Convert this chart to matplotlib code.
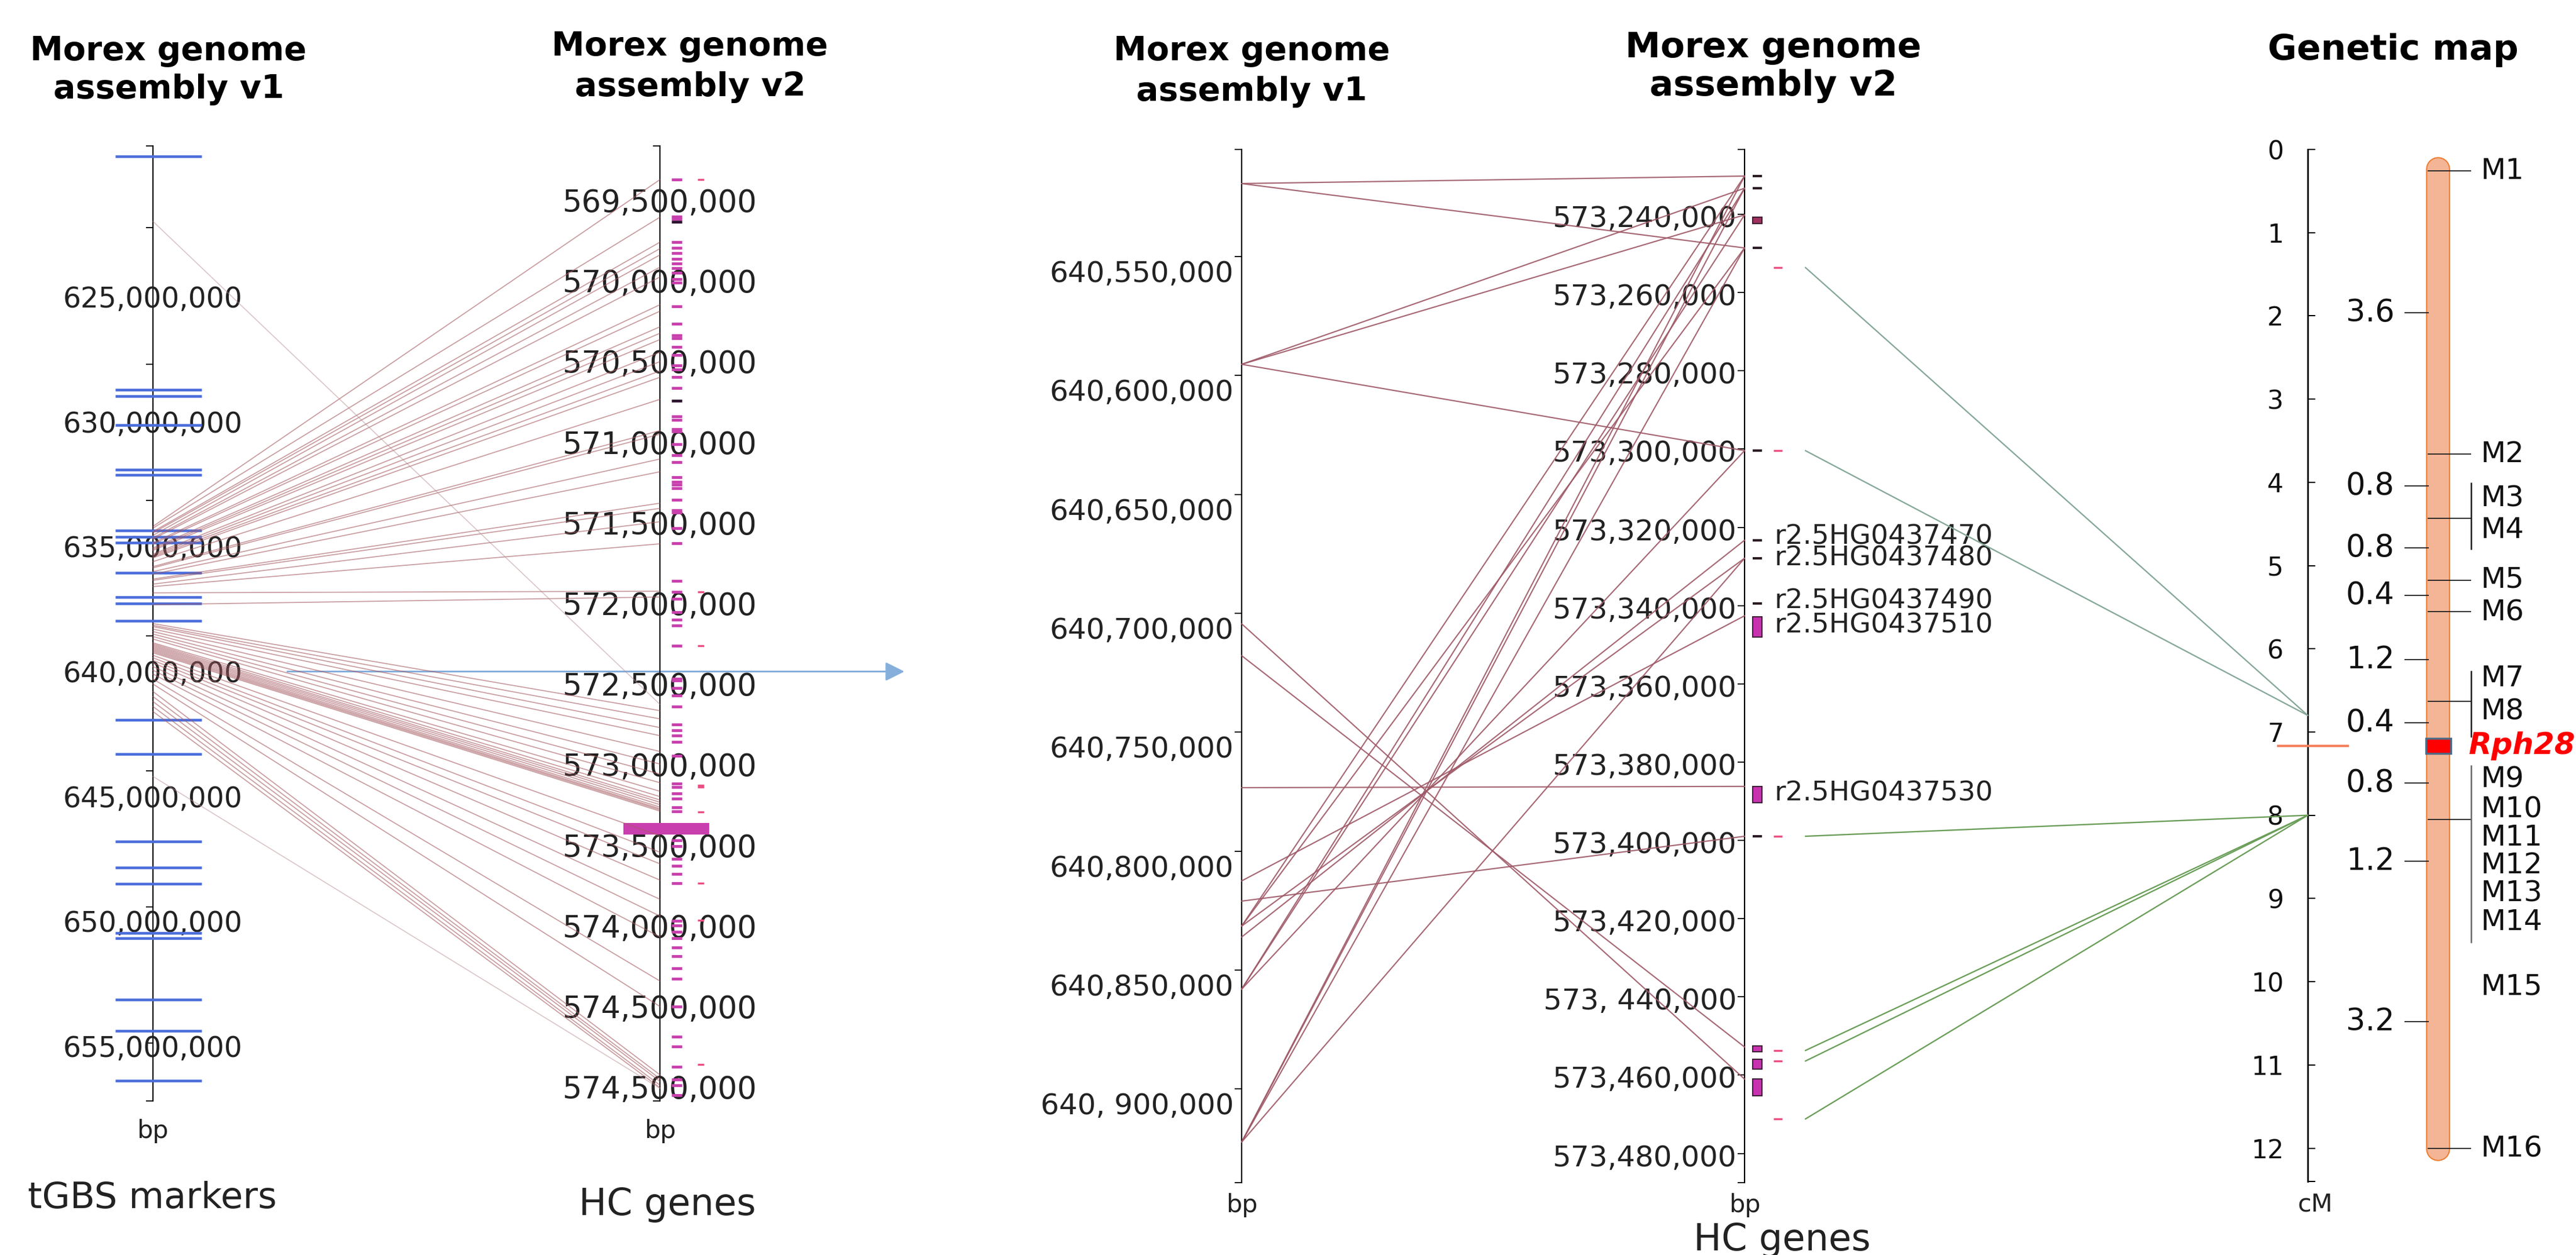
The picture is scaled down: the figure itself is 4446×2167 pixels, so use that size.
import matplotlib
matplotlib.use("Agg")
import matplotlib.pyplot as plt
from matplotlib.patches import ConnectionPatch, Rectangle
from matplotlib.transforms import offset_copy
import matplotlib.patheffects as pe

# ---------------- left block: whole region, assembly v1 vs v2 (Mb) ----------------
v1_range_mb = (618.86, 657.09)
v1_tick_mb = [625, 630, 635, 640, 645, 650, 655]
v1_tick_labels = ['625,000,000', '630,000,000', '635,000,000', '640,000,000',
                  '645,000,000', '650,000,000', '655,000,000']
v1_minor_mb = [622.13, 627.60, 633.05, 638.47, 643.87, 649.32, 654.77]
tgbs_markers_mb = [619.27, 628.62, 628.87, 630.03, 631.82, 632.03, 634.25, 634.51,
                   634.74, 635.94, 636.92, 637.17, 637.87, 641.83, 643.20, 646.70,
                   647.75, 648.39, 650.37, 650.57, 653.03, 654.28, 656.28]

v2_range_mb = (569.144, 575.068)
v2_tick_mb = [569.5, 570.0, 570.5, 571.0, 571.5, 572.0, 572.5, 573.0, 573.5, 574.0, 574.5, 575.0]
v2_tick_labels = ['569,500,000', '570,000,000', '570,500,000', '571,000,000',
                  '571,500,000', '572,000,000', '572,500,000', '573,000,000',
                  '573,500,000', '574,000,000', '574,500,000', '574,500,000']
hc_genes_mb = [569.353, 569.583, 569.597, 569.741, 569.777, 569.809, 569.845, 569.874,
               569.903, 569.932, 569.971, 569.993, 570.140, 570.248, 570.317, 570.338,
               570.392, 570.442, 570.507, 570.532, 570.576, 570.647, 570.820, 570.842,
               570.899, 570.914, 570.993, 571.061, 571.104, 571.198, 571.227, 571.245,
               571.266, 571.338, 571.403, 571.417, 571.514, 571.608, 571.842, 571.910,
               571.953, 572.036, 572.083, 572.119, 572.245, 572.450, 572.460, 572.507,
               572.554, 572.622, 572.734, 572.770, 572.802, 572.842, 572.928, 573.101,
               573.122, 573.162, 573.191, 573.245, 573.270, 573.453, 573.489, 573.565,
               573.608, 573.658, 573.716, 573.950, 573.978, 574.018, 574.058, 574.115,
               574.169, 574.245, 574.309, 574.482, 574.669, 574.730, 574.856, 574.935,
               574.971, 575.032]
hc_genes_dark_mb = [569.615, 570.723]
hc_extra_mb = [569.353, 571.910, 572.245, 573.110, 573.122, 573.277, 573.716, 573.946, 574.842]
hc_cluster_mb = (573.345, 573.417)

link_v1_mb = [634.09, 634.16, 634.30, 634.35, 634.45, 634.55, 634.60, 634.75, 634.80,
              634.95, 635.00, 635.05, 635.20, 635.25, 635.30, 635.35, 635.50, 635.70,
              635.75, 635.90, 636.00, 636.20, 636.25, 636.40, 636.50, 636.75, 637.22,
              637.98, 638.05, 638.10, 638.20, 638.30, 638.40, 638.50, 638.60, 638.75,
              638.80, 638.85, 638.90, 638.95, 639.00, 639.05, 639.10, 639.15, 639.25,
              639.35, 639.45, 639.55, 639.70, 639.85, 640.00, 640.20, 640.40, 640.70,
              640.90, 641.10, 641.30, 641.50]
link_v2_mb = [569.353, 569.586, 569.741, 569.781, 569.820, 569.896, 569.957, 570.129, 570.169,
              570.266, 570.306, 570.345, 570.424, 570.482, 570.540, 570.579, 570.716, 570.910,
              570.932, 571.086, 571.165, 571.360, 571.392, 571.475, 571.612, 571.906, 571.942,
              572.647, 572.698, 572.752, 572.802, 572.900, 572.978, 573.040, 573.094, 573.147,
              573.180, 573.201, 573.215, 573.230, 573.245, 573.255, 573.262, 573.270, 573.424,
              573.525, 573.597, 573.698, 573.817, 573.921, 574.050, 574.324, 574.482, 574.906,
              574.930, 574.946, 574.970, 574.986]
faint_v1_mb = [621.88, 644.10]
faint_v2_mb = [572.608, 574.990]

# ---------------- middle block: zoom on the Rph28 interval (bp) ----------------
zv1_range = (640504950, 640939350)
zv1_ticks = [640550000, 640600000, 640650000, 640700000, 640750000, 640800000, 640850000, 640900000]
zv1_labels = ['640,550,000', '640,600,000', '640,650,000', '640,700,000',
              '640,750,000', '640,800,000', '640,850,000', '640, 900,000']

zv2_range = (573223420, 573487460)
zv2_ticks = [573240000, 573260000, 573280000, 573300000, 573320000, 573340000, 573360000,
             573380000, 573400000, 573420000, 573440000, 573460000, 573480000]
zv2_labels = ['573,240,000', '573,260,000', '573,280,000', '573,300,000', '573,320,000',
              '573,340,000', '573,360,000', '573,380,000', '573,400,000', '573,420,000',
              '573, 440,000', '573,460,000', '573,480,000']

zoom_link_v1 = [640519300, 640519300, 640595300, 640595300, 640595300, 640704400, 640717800,
                640773300, 640812500, 640821000, 640831500, 640831500, 640831500, 640836100,
                640858000, 640858000, 640858000, 640922300, 640922300, 640922300, 640922300]
zoom_link_v2 = [573230230, 573248600, 573233340, 573240150, 573300400, 573461000, 573452800,
                573386200, 573342600, 573398950, 573230230, 573248600, 573327900, 573323300,
                573233340, 573240150, 573300400, 573230230, 573233340, 573248600, 573327900]

zoom_gene_dash = [573230230, 573233340, 573248600, 573300400, 573323300, 573327900,
                  573339500, 573398950]
zoom_gene_start = [573240740, 573342900, 573386200, 573452500, 573455900, 573461000]
zoom_gene_end = [573242370, 573348000, 573390400, 573454000, 573458400, 573465300]
gene_names = ['r2.5HG0437470', 'r2.5HG0437480', 'r2.5HG0437490', 'r2.5HG0437510', 'r2.5HG0437530']
gene_name_pos = [573322400, 573327900, 573338900, 573345100, 573388000]

map_marker_bp = [573253600, 573300400, 573398950, 573453700, 573456400, 573471200]
map_marker_cm = [6.8, 6.8, 8.0, 8.0, 8.0, 8.0]

# ---------------- right block: genetic map (cM) ----------------
cm_range = (0, 12.40)
cm_ticks = list(range(13))
chrom_cm = (0.10, 12.15)
marker_line_cm = [0.26, 3.66, 4.43, 5.18, 5.55, 6.63, 8.05, 12.0]
marker_names = ['M1', 'M2', 'M3', 'M4', 'M5', 'M6', 'M7', 'M8', 'M9', 'M10', 'M11',
                'M12', 'M13', 'M14', 'M15', 'M16']
marker_label_cm = [0.26, 3.66, 4.19, 4.57, 5.17, 5.56, 6.35, 6.75, 7.57, 7.93, 8.27,
                   8.60, 8.94, 9.28, 10.06, 12.01]
bracket_cm = [(4.00, 4.81), (6.26, 7.06), (7.40, 9.53)]
interval_labels = ['3.6', '0.8', '0.8', '0.4', '1.2', '0.4', '0.8', '1.2', '3.2']
interval_cm = [1.96, 4.04, 4.79, 5.36, 6.13, 6.89, 7.61, 8.55, 10.48]
rph28_cm = (7.08, 7.26)

W, H = 4446, 2167
fig = plt.figure(figsize=(W / 100, H / 100), dpi=100)
fig.patch.set_facecolor('white')
TXT = '#222222'


def fig_text(x, y, s, **kw):
    fig.text(x / W, 1 - y / H, s, **kw)


def axis_panel(x0, top, bottom, left, right):
    # narrow axes whose left spine is the chromosome line, x in pixels from that line
    ax = fig.add_axes([(x0 - left) / W, 1 - bottom / H, (left + right) / W, (bottom - top) / H])
    ax.set_xlim(-left, right)
    ax.patch.set_visible(False)
    for s in ('top', 'right', 'bottom'):
        ax.spines[s].set_visible(False)
    ax.spines['left'].set_position(('data', 0))
    ax.spines['left'].set_linewidth(1.6)
    ax.set_xticks([])
    ax.tick_params(axis='y', labelleft=False, length=9, width=1.3, direction='out')
    return ax


def connect(axA, a, axB, b, xa=0, xb=0, **kw):
    con = ConnectionPatch(xyA=(xa, a), coordsA=axA.transData,
                          xyB=(xb, b), coordsB=axB.transData, **kw)
    fig.add_artist(con)


# panel 1: assembly v1, tGBS markers
ax1 = axis_panel(264, 252, 1901, 110, 130)
ax1.set_yticks(v1_minor_mb + list(v1_range_mb))
ax1.set_ylim(v1_range_mb[1], v1_range_mb[0])
for v, lab in zip(v1_tick_mb, v1_tick_labels):
    ax1.text(0, v, lab, ha='center', va='center', fontsize=35, color=TXT, zorder=3)
ax1.hlines(tgbs_markers_mb, -65, 84, color='#4a6ddb', lw=3.3, zorder=4)

# panel 2: assembly v2, HC genes
ax2 = axis_panel(1139, 252, 1901, 110, 110)
ax2.set_yticks(list(v2_range_mb))
ax2.set_ylim(v2_range_mb[1], v2_range_mb[0])
for v, lab in zip(v2_tick_mb, v2_tick_labels):
    ax2.text(0, v, lab, ha='center', va='center', fontsize=38, color=TXT, zorder=3)
ax2.hlines(hc_genes_mb, 20, 38, color='#c93fae', lw=3.5, zorder=4)
ax2.hlines(hc_genes_dark_mb, 20, 38, color='#2d1530', lw=3.5, zorder=4)
ax2.hlines(hc_extra_mb, 65, 76, color='#ea4f83', lw=2.5, zorder=4)
ax2.barh((hc_cluster_mb[0] + hc_cluster_mb[1]) / 2, 148, left=-63,
         height=hc_cluster_mb[1] - hc_cluster_mb[0], color='#c93fae', zorder=4)

for a, b in zip(link_v1_mb, link_v2_mb):
    connect(ax1, a, ax2, b, color='#a65c62', lw=1.3, alpha=0.6)
for a, b in zip(faint_v1_mb, faint_v2_mb):
    connect(ax1, a, ax2, b, color='#b58a8e', lw=1.2, alpha=0.5)

ax1.annotate('', xy=(1297, 639.9), xytext=(232, 639.9), annotation_clip=False,
             arrowprops=dict(arrowstyle='-|>', color='#86afdc', lw=2.2,
                             mutation_scale=50, shrinkA=0, shrinkB=0))

# panel 3: zoomed assembly v1
ax3 = axis_panel(2143, 258, 2042, 60, 60)
ax3.set_yticks(zv1_ticks + list(zv1_range))
ax3.set_ylim(zv1_range[1], zv1_range[0])
lab_shift = offset_copy(ax3.transData, fig=fig, x=0, y=-6, units='dots')
for v, lab in zip(zv1_ticks, zv1_labels):
    ax3.text(-14, v, lab, ha='right', va='top', fontsize=36, color=TXT, transform=lab_shift)

# panel 4: zoomed assembly v2
ax4 = axis_panel(3011, 258, 2042, 60, 160)
ax4.set_yticks(zv2_ticks + list(zv2_range))
ax4.set_ylim(zv2_range[1], zv2_range[0])
lab_shift4 = offset_copy(ax4.transData, fig=fig, x=0, y=-8, units='dots')
for v, lab in zip(zv2_ticks, zv2_labels):
    ax4.text(-14, v, lab, ha='right', va='center', fontsize=36, color=TXT, transform=lab_shift4)
ax4.hlines(zoom_gene_dash, 14, 30, color='#2b1a24', lw=3, zorder=4)
box_colors = ['#a0305e'] + ['#c832b0'] * (len(zoom_gene_start) - 1)
for s, e, c in zip(zoom_gene_start, zoom_gene_end, box_colors):
    ax4.barh((s + e) / 2, 16, left=14, height=e - s, color=c,
             edgecolor='#3c1f33', lw=1.5, zorder=4)
ax4.hlines(map_marker_bp, 50, 65, color='#ee4d80', lw=2.5, zorder=4)
for name, v in zip(gene_names, gene_name_pos):
    ax4.text(52, v, name, ha='left', va='center', fontsize=34, color=TXT)

for a, b in zip(zoom_link_v1, zoom_link_v2):
    connect(ax3, a, ax4, b, color='#9e5866', lw=1.6, alpha=0.9)

# panel 5: genetic map
ax5 = axis_panel(3983, 258, 2040, 110, 470)
ax5.spines['left'].set_linewidth(2)
ax5.set_yticks(cm_ticks)
ax5.set_yticklabels([str(t) for t in cm_ticks])
ax5.set_yticks([cm_range[1]], minor=True)
ax5.tick_params(axis='y', which='both', labelleft=True, direction='in', length=9.4,
                width=1.5, pad=30, labelsize=32, labelcolor='#111111')
ax5.set_ylim(cm_range[1], cm_range[0])

ax5.plot([225, 225], [chrom_cm[0] + 0.14, chrom_cm[1] - 0.14], color='#f4b596', lw=27,
         solid_capstyle='round', zorder=2,
         path_effects=[pe.Stroke(linewidth=30, foreground='#ed7d31'), pe.Normal()])
ax5.hlines(marker_line_cm, 207, 282, color='#1a1a1a', lw=1.3, zorder=3)
for (a, b), c in zip(bracket_cm, ['#1a1a1a', '#1a1a1a', '#666666']):
    ax5.vlines(282, a, b, color=c, lw=1.8, zorder=3)
ax5.hlines(interval_cm, 167, 209, color='#1a1a1a', lw=1.3, zorder=3)
for lab, c in zip(interval_labels, interval_cm):
    ax5.text(150, c, lab, ha='right', va='center', fontsize=38, color='#111111')
for name, c in zip(marker_names, marker_label_cm):
    ax5.text(298, c, name, ha='left', va='center', fontsize=36, color='#111111')
ax5.add_patch(Rectangle((204, rph28_cm[0]), 43, rph28_cm[1] - rph28_cm[0], facecolor='#ff0000',
                        edgecolor='#4d6a85', lw=2.5, zorder=5))
ax5.text(278, (rph28_cm[0] + rph28_cm[1]) / 2, 'Rph28', color='#ff0000', fontweight='bold',
         fontstyle='italic', fontsize=37, ha='left', va='center')
ax5.hlines((rph28_cm[0] + rph28_cm[1]) / 2, -53, 71, color='#f4805c', lw=3, zorder=5)

for bp, cm in zip(map_marker_bp, map_marker_cm):
    col = '#86a898' if cm < 7.5 else '#6a9e58'
    connect(ax4, bp, ax5, cm, xa=105, color=col, lw=1.7)

# headers and axis captions
HDR = dict(ha='center', va='center', fontweight='bold', color='#000000')
fig_text(291, 88, 'Morex genome', fontsize=41, **HDR)
fig_text(291, 155, 'assembly v1', fontsize=41, **HDR)
fig_text(1191, 80, 'Morex genome', fontsize=41, **HDR)
fig_text(1191, 150, 'assembly v2', fontsize=41, **HDR)
fig_text(2160, 89, 'Morex genome', fontsize=41, **HDR)
fig_text(2160, 158, 'assembly v1', fontsize=41, **HDR)
fig_text(3061, 82, 'Morex genome', fontsize=44, **HDR)
fig_text(3061, 149, 'assembly v2', fontsize=44, **HDR)
fig_text(4130, 87, 'Genetic map', fontsize=44, **HDR)

for x, y, s in [(263, 1953, 'bp'), (1139, 1953, 'bp'), (2143, 2081, 'bp'),
                (3011, 2081, 'bp'), (3996, 2079, 'cM')]:
    fig_text(x, y, s, ha='center', va='center', fontsize=31, color=TXT)
fig_text(263, 2069, 'tGBS markers', ha='center', va='center', fontsize=45, color=TXT)
fig_text(1152, 2080, 'HC genes', ha='center', va='center', fontsize=46, color=TXT)
fig_text(3076, 2141, 'HC genes', ha='center', va='center', fontsize=46, color=TXT)

fig.savefig('out.png', dpi=100, facecolor='white')
